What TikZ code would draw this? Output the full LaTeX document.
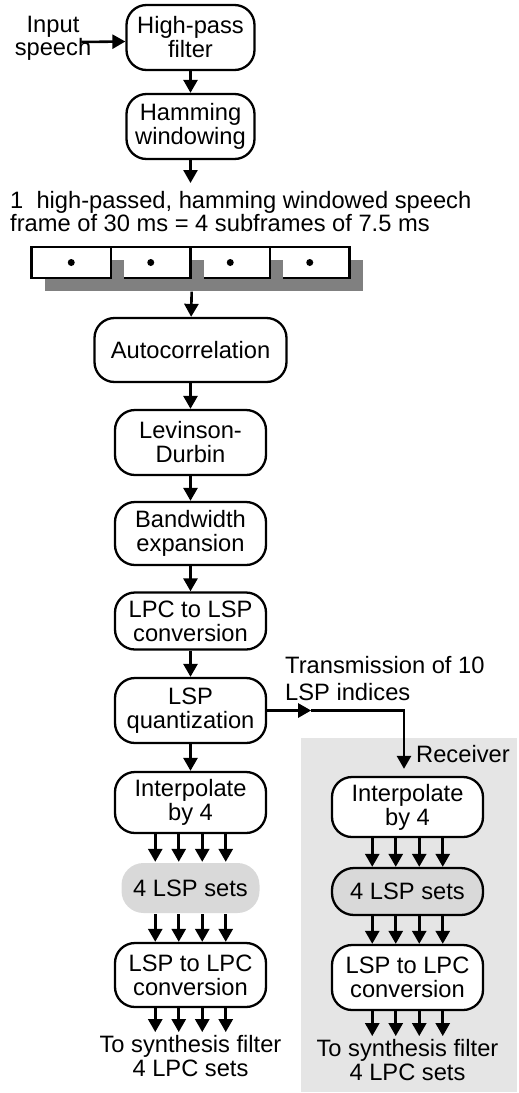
\documentclass[tikz,border=0pt]{standalone}
\usepackage{fontspec}
\setmainfont{Liberation Sans}
\usetikzlibrary{arrows.meta,shadows}

\tikzset{
  every node/.style={font=\fontsize{23.7}{24}\selectfont},
  blk/.style={draw, line width=2.3pt, rounded corners=20pt, fill=white, align=center,
    inner sep=0pt, minimum width=151pt, minimum height=64pt},
  lspsets/.style={blk, rounded corners=22pt, fill=gray!30},
  subfr/.style={draw, line width=2.3pt, fill=white, minimum width=79.5pt, minimum height=31pt,
    inner sep=0pt, general shadow={fill=gray, shadow xshift=13pt, shadow yshift=-12.5pt}},
  lbl/.style={inner sep=0pt, align=center},
  arr/.style={line width=2.6pt, -{Triangle[length=13pt,width=14pt]}},
}

\begin{document}
\begin{tikzpicture}[x=1pt,y=-1pt]
    \useasboundingbox (0,0) rectangle (519,1093);

    \fill[gray!20] (301,738) rectangle (517,1092); % receiver side

    % encoder
    \node[lbl, font=\fontsize{23.7}{22}\selectfont] (input) at (53,38) {Input\\speech};
    \node[blk, minimum width=128pt, minimum height=65pt] (hp) at (190.5,37.5) {High-pass\\filter};
    \node[blk, minimum width=128pt, minimum height=65pt] (ham) at (190.5,126.5) {Hamming\\windowing};
    \node[lbl, align=left, anchor=north west, font=\fontsize{23.7}{21}\selectfont] (frmtxt) at (10,191)
        {1\ \ high-passed, hamming windowed speech\\frame of 30 ms = 4 subframes of 7.5 ms};

    \foreach \i in {4,3,2,1}{% right to left, so each shadow falls on the next box
      \node[subfr] (sf\i) at ({31.5+79.5*(\i-0.5)},262.5) {};
      \fill (sf\i) circle (3.5pt);
    }
    \coordinate (frmbot) at ([yshift=-12.5pt]sf2.south east);

    \node[blk, minimum width=192pt] (ac) at (190.5,350) {Autocorrelation};
    \node[blk, minimum height=65pt] (ld) at (190.5,442.5) {Levinson-\\Durbin};
    \node[blk, minimum height=63pt] (bw) at (190.5,533.5) {Bandwidth\\expansion};
    \node[blk, minimum height=57pt] (l2l) at (190.5,621) {LPC to LSP\\conversion};
    \node[blk, minimum height=65pt] (lq) at (190.5,710.5) {LSP\\quantization};
    \node[blk, minimum height=61pt] (ip) at (190.5,802.5) {Interpolate\\by 4};
    \node[lspsets, draw=none, minimum width=138pt, minimum height=50pt] (ls) at (190.5,888) {4 LSP sets};
    \node[blk] (lc) at (190.5,975) {LSP to LPC\\conversion};
    \node[lbl] (out) at (190.5,1056) {To synthesis filter\\4 LPC sets};

    % transmission
    \node[lbl, align=left, anchor=north west, font=\fontsize{23.7}{27}\selectfont] (txlbl) at (285,656)
        {Transmission of 10\\LSP indices};
    \coordinate (txmid) at ([xshift=44pt]lq.east);

    % receiver
    \node[lbl, anchor=base west] (rcvlbl) at (416,762) {Receiver};
    \node[blk, minimum height=60pt] (rip) at (407.5,807) {Interpolate\\by 4};
    \node[lspsets, minimum height=47pt] (rls) at (407.5,891.5) {4 LSP sets};
    \node[blk, minimum height=65pt] (rlc) at (407.5,977.5) {LSP to LPC\\conversion};
    \node[lbl] (rout) at (407.5,1060) {To synthesis filter\\4 LPC sets};

    % arrows
    \draw[arr] ([xshift=-10pt,yshift=-4pt]input.east) -- ([yshift=-4pt]hp.west);
    \draw[arr] (hp) -- (ham);
    \draw[arr, shorten >=8pt] (ham) -- (ham |- frmtxt.north);
    \draw[arr] (frmbot) -- (ac);
    \draw[arr] (ac) -- (ld);
    \draw[arr] (ld) -- (bw);
    \draw[arr] (bw) -- (l2l);
    \draw[arr] (l2l) -- (lq);
    \draw[arr] (lq) -- (ip);
    \draw[arr] (lq.east) -- (txmid);
    \draw[arr, shorten >=7pt] (txmid) -| ([xshift=-3.5pt]rip.north);

    \foreach \d in {-35.25,-11.75,11.75,35.25}{
      \draw[arr] ([xshift=\d pt]ip.south) -- ([xshift=\d pt]ls.north);
      \draw[arr] ([xshift=\d pt]ls.south) -- ([xshift=\d pt]lc.north);
      \draw[arr, shorten >=3pt] ([xshift=\d pt]lc.south) -- ([xshift=\d pt]out.north);
      \draw[arr] ([xshift=\d pt]rip.south) -- ([xshift=\d pt]rls.north);
      \draw[arr] ([xshift=\d pt]rls.south) -- ([xshift=\d pt]rlc.north);
      \draw[arr, shorten >=3pt] ([xshift=\d pt]rlc.south) -- ([xshift=\d pt]rout.north);
    }
\end{tikzpicture}
\end{document}
